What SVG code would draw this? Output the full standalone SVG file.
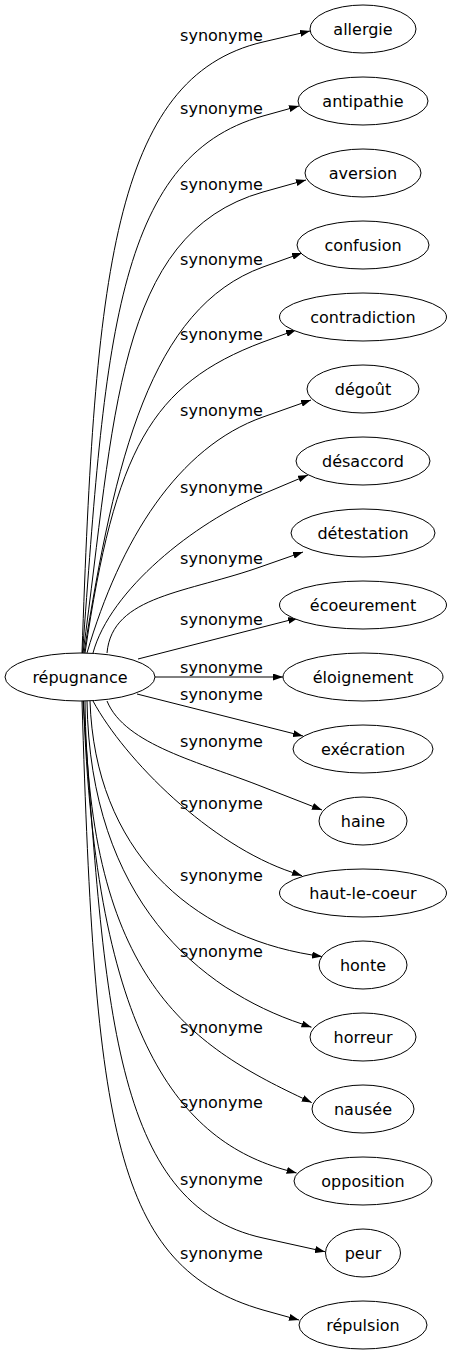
<svg xmlns="http://www.w3.org/2000/svg" width="452" height="1355" viewBox="0 0 452 1355">
<style>
.node ellipse{fill:#fff;stroke:#000;stroke-width:1}
.node text,.lbl{font-family:"DejaVu Sans",sans-serif;font-size:16px;text-anchor:middle;fill:#000}
.edges path{fill:none;stroke:#000;stroke-width:1;marker-end:url(#arr)}
</style>
<defs>
<marker id="arr" viewBox="0 0 10 7" refX="10" refY="3.5" markerWidth="10" markerHeight="7" markerUnits="userSpaceOnUse" orient="auto">
<polygon points="0,0 10,3.5 0,7" fill="#000"/>
</marker>
</defs>
<rect width="452" height="1355" fill="#fff"/>
<g id="edges" class="edges">
<path d="M82,653 C95,280 112,77 263,42 L310,31"/>
<path d="M82.5,653 C105,350 114,157 263,116 L299,106"/>
<path d="M83,653 C115,420 115,234 263,192 L306,180"/>
<path d="M84,653 C115,460 150,308 263,267 L302,253"/>
<path d="M85,653 C115,450 151,384 263,342 L296,330"/>
<path d="M87,653 C120,540 178,447 263,417 L311,400"/>
<path d="M93,653 C110,590 194,523 263,494 L308,475"/>
<path d="M107,653 C112,595 188,593 263,566 L303,552"/>
<path d="M138,659 L298,618"/>
<path d="M155,677 L283,677"/>
<path d="M137,694 L303,736"/>
<path d="M107,701 C125,745 200,762 263,787 L322,810"/>
<path d="M93,701 C125,760 210,845 292.6,872.5 L302,875.7"/>
<path d="M90,701 C95,850 190,935 312,955 L322,956.6"/>
<path d="M87,701 C90,900 200,990 302,1024 L311.5,1027.2"/>
<path d="M85,701 C88,980 190,1045 302.7,1098.3 L311.7,1102.6"/>
<path d="M83.5,701 C95,1040 180.8,1141.4 287,1170.4 L296.6,1173"/>
<path d="M83,701 C105,1004 112,1205 263,1238 L325,1251.7"/>
<path d="M82,701 C95,1130 114,1267 263,1310 L299,1320"/>
<text class="lbl" x="221.5" y="41">synonyme</text>
<text class="lbl" x="221.5" y="114">synonyme</text>
<text class="lbl" x="221.5" y="190">synonyme</text>
<text class="lbl" x="221.5" y="265">synonyme</text>
<text class="lbl" x="221.5" y="340">synonyme</text>
<text class="lbl" x="221.5" y="416">synonyme</text>
<text class="lbl" x="221.5" y="493">synonyme</text>
<text class="lbl" x="221.5" y="564">synonyme</text>
<text class="lbl" x="221.5" y="625">synonyme</text>
<text class="lbl" x="221.5" y="673">synonyme</text>
<text class="lbl" x="221.5" y="700">synonyme</text>
<text class="lbl" x="221.5" y="747">synonyme</text>
<text class="lbl" x="221.5" y="809">synonyme</text>
<text class="lbl" x="221.5" y="881">synonyme</text>
<text class="lbl" x="221.5" y="957">synonyme</text>
<text class="lbl" x="221.5" y="1033">synonyme</text>
<text class="lbl" x="221.5" y="1108">synonyme</text>
<text class="lbl" x="221.5" y="1185">synonyme</text>
<text class="lbl" x="221.5" y="1259">synonyme</text>
</g>
<g id="n_repugnance" class="node"><ellipse cx="80" cy="677" rx="75" ry="24"/><text x="80" y="683">répugnance</text></g>
<g id="n_allergie" class="node"><ellipse cx="363" cy="29" rx="53" ry="24"/><text x="363" y="35">allergie</text></g>
<g id="n_antipathie" class="node"><ellipse cx="363" cy="101" rx="65" ry="24"/><text x="363" y="107">antipathie</text></g>
<g id="n_aversion" class="node"><ellipse cx="363" cy="173" rx="58" ry="24"/><text x="363" y="179">aversion</text></g>
<g id="n_confusion" class="node"><ellipse cx="363" cy="245" rx="66" ry="24"/><text x="363" y="251">confusion</text></g>
<g id="n_contradiction" class="node"><ellipse cx="363" cy="317" rx="83.5" ry="24"/><text x="363" y="323">contradiction</text></g>
<g id="n_degout" class="node"><ellipse cx="363" cy="389" rx="56" ry="24"/><text x="363" y="395">dégoût</text></g>
<g id="n_desaccord" class="node"><ellipse cx="363" cy="461" rx="67" ry="24"/><text x="363" y="467">désaccord</text></g>
<g id="n_detestation" class="node"><ellipse cx="363" cy="533" rx="72" ry="24"/><text x="363" y="539">détestation</text></g>
<g id="n_ecoeurement" class="node"><ellipse cx="363" cy="605" rx="83.5" ry="24"/><text x="363" y="611">écoeurement</text></g>
<g id="n_eloignement" class="node"><ellipse cx="363" cy="677" rx="80" ry="24"/><text x="363" y="683">éloignement</text></g>
<g id="n_execration" class="node"><ellipse cx="363" cy="749" rx="70" ry="24"/><text x="363" y="755">exécration</text></g>
<g id="n_haine" class="node"><ellipse cx="363" cy="821" rx="44" ry="24"/><text x="363" y="827">haine</text></g>
<g id="n_hautlecoeur" class="node"><ellipse cx="363" cy="893" rx="83.5" ry="24"/><text x="363" y="899">haut-le-coeur</text></g>
<g id="n_honte" class="node"><ellipse cx="363" cy="965" rx="44" ry="24"/><text x="363" y="971">honte</text></g>
<g id="n_horreur" class="node"><ellipse cx="363" cy="1037" rx="53" ry="24"/><text x="363" y="1043">horreur</text></g>
<g id="n_nausee" class="node"><ellipse cx="363" cy="1109" rx="51" ry="24"/><text x="363" y="1115">nausée</text></g>
<g id="n_opposition" class="node"><ellipse cx="363" cy="1181" rx="69" ry="24"/><text x="363" y="1187">opposition</text></g>
<g id="n_peur" class="node"><ellipse cx="363" cy="1253" rx="37.5" ry="24"/><text x="363" y="1259">peur</text></g>
<g id="n_repulsion" class="node"><ellipse cx="363" cy="1325" rx="64" ry="24"/><text x="363" y="1331">répulsion</text></g>
</svg>
